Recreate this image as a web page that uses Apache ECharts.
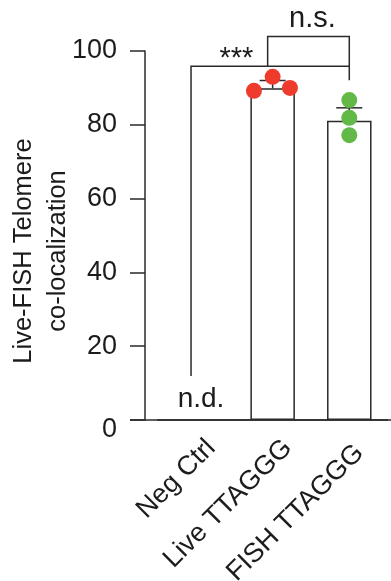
<!DOCTYPE html>
<html>
<head>
<meta charset="utf-8">
<script src="https://cdn.jsdelivr.net/npm/echarts@6/dist/echarts.min.js"></script>
<style>
  html, body { margin: 0; padding: 0; background: #fff; }
  #chart { width: 391px; height: 581px; }
</style>
</head>
<body>
<div id="chart"></div>
<script>
// data
var categories = ['Neg Ctrl', 'Live TTAGGG', 'FISH TTAGGG'];
var barMeans = ['-', 89.9, 81.1];
var errTops = [null, 92.0, 84.6];
var liveReps = [89.2, 93.0, 90.0];
var fishReps = [86.7, 81.9, 77.2];
var yTicks = [0, 20, 40, 60, 80, 100];
var ndLabel = 'n.d.';
// brackets: [category index, value] corners, then label
var bracketStars = [[0, 11.9], [0, 95.9], [2, 95.9], [2, 92.1]];
var bracketNs = [[1, 95.9], [1, 103.9], [2, 103.9], [2, 95.9]];
var bracketLabels = ['***', 'n.s.'];

// style
var font = 'Liberation Sans, Arial, Helvetica, sans-serif';
var ink = '#1c1c1c';
var lineCol = '#2a2a2a';
var red = '#ee3b2c';
var green = '#62b947';
var liveJitter = [-18.7, 0, 17.3];

var chart = echarts.init(document.getElementById('chart'));

var brackets = [bracketStars, bracketNs];

var option = {
    animation: false,
    backgroundColor: '#fff',
    grid: { left: 157.7, right: 3.4, top: 51, bottom: 161, containLabel: false, outerBoundsMode: 'none' },
    xAxis: {
        type: 'category',
        data: categories,
        axisLine: { lineStyle: { color: lineCol, width: 1.5 } },
        axisTick: { show: false },
        axisLabel: {
            interval: 0,
            rotate: 45,
            margin: 8.7,
            color: ink,
            fontFamily: font,
            fontSize: 27,
            verticalAlign: 'top',
            lineHeight: 43,
            // the last label sits a little lower in the figure
            formatter: function (v, i) {
                return i === 2 ? '{low|' + v + '}' : v;
            },
            rich: {
                low: { fontSize: 27, fontFamily: font, color: ink, lineHeight: 43, padding: [0, 7, 0, 0] }
            }
        }
    },
    yAxis: {
        type: 'value',
        min: yTicks[0],
        max: yTicks[yTicks.length - 1],
        interval: yTicks[1] - yTicks[0],
        offset: 12.7,
        splitLine: { show: false },
        axisLine: { show: true, lineStyle: { color: lineCol, width: 1.5 } },
        axisTick: { show: true, length: 15, lineStyle: { color: lineCol, width: 1.5 } },
        axisLabel: {
            margin: 28,
            color: ink,
            fontFamily: font,
            fontSize: 27,
            formatter: function (v) {
                return v === 0 ? '{z|0}' : String(v);
            },
            rich: {
                z: { fontSize: 27, fontFamily: font, color: ink, padding: [20, 0, 0, 0] }
            }
        },
        name: 'Live-FISH Telomere\nco-localization',
        nameLocation: 'middle',
        nameRotate: 90,
        nameGap: 70,
        nameMoveOverlap: false,
        nameTextStyle: {
            color: ink,
            fontFamily: font,
            fontSize: 25.5,
            lineHeight: 34,
            padding: [0, 31, 0, 0]
        }
    },
    series: [
        {
            type: 'bar',
            data: barMeans,
            barWidth: 44.5,
            itemStyle: { color: '#fff', borderColor: lineCol, borderWidth: 1.5 },
            z: 2
        },
        {
            type: 'custom',
            z: 3,
            data: errTops.map(function (t, i) { return [i, barMeans[i], t]; })
                .filter(function (d) { return d[2] != null; }),
            renderItem: function (params, api) {
                var base = api.coord([api.value(0), api.value(1)]);
                var top = api.coord([api.value(0), api.value(2)]);
                var st = { stroke: lineCol, lineWidth: 1.5 };
                return {
                    type: 'group',
                    children: [
                        { type: 'line', shape: { x1: top[0], y1: top[1], x2: base[0], y2: base[1] }, style: st },
                        { type: 'line', shape: { x1: top[0] - 13, y1: top[1], x2: top[0] + 13, y2: top[1] }, style: st }
                    ]
                };
            }
        },
        {
            type: 'scatter',
            z: 4,
            symbolSize: 16,
            itemStyle: { color: red, opacity: 1 },
            data: liveReps.map(function (v, i) {
                return { value: [1, v], symbolOffset: [liveJitter[i], 0] };
            })
        },
        {
            type: 'scatter',
            z: 4,
            symbolSize: 16,
            itemStyle: { color: green, opacity: 1 },
            data: fishReps.map(function (v) { return [2, v]; })
        },
        {
            type: 'custom',
            z: 5,
            clip: false,
            data: brackets.map(function (b, i) { return [i]; }),
            renderItem: function (params, api) {
                var b = brackets[params.dataIndex];
                var pts = b.map(function (p) { return api.coord(p); });
                pts[0][0] -= 5;
                pts[1][0] -= 5;
                var label = bracketLabels[params.dataIndex];
                var tx, ty;
                if (params.dataIndex === 0) {
                    var a = api.coord([0, b[1][1]]), c = api.coord([1, b[1][1]]);
                    tx = (a[0] + c[0]) / 2 + 2;
                    ty = pts[1][1] - 7.5;
                } else {
                    tx = (pts[1][0] + pts[2][0]) / 2 + 4;
                    ty = pts[1][1] - 18;
                }
                return {
                    type: 'group',
                    children: [
                        { type: 'polyline', shape: { points: pts }, style: { stroke: lineCol, lineWidth: 1.5, fill: null } },
                        { type: 'text', x: tx, y: ty, style: { text: label, fill: ink, font: '29px ' + font, align: 'center', verticalAlign: 'middle' } }
                    ]
                };
            }
        },
        {
            type: 'custom',
            z: 5,
            data: [[0, 0]],
            renderItem: function (params, api) {
                var p = api.coord([api.value(0), api.value(1)]);
                return {
                    type: 'text', x: p[0] + 5, y: p[1] - 21,
                    style: { text: ndLabel, fill: ink, font: '28px ' + font, align: 'center', verticalAlign: 'middle' }
                };
            }
        }
    ]
};

chart.setOption(option);

// x axis baseline runs from the y tick start to the right edge
var y0 = chart.convertToPixel({ yAxisIndex: 0 }, 0);
chart.setOption({
    graphic: [{
        type: 'line',
        shape: { x1: 157.7 - 12.7 - 15, y1: y0, x2: 391, y2: y0 },
        style: { stroke: lineCol, lineWidth: 1.5 },
        z: 1
    }]
});
</script>
</body>
</html>
